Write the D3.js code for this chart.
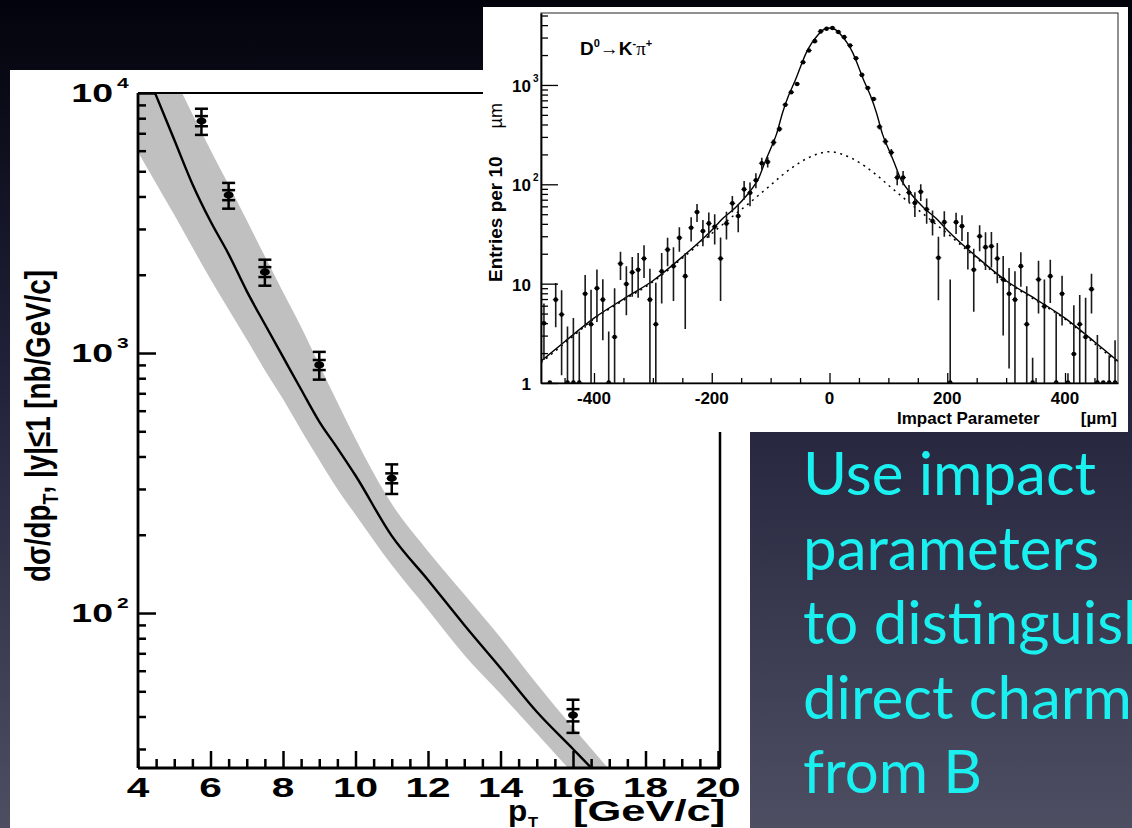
<!DOCTYPE html>
<html>
<head>
<meta charset="utf-8">
<script src="https://cdn.jsdelivr.net/npm/d3@7"></script>
<style>
  body { margin: 0; background: #000; }
  svg { display: block; }
</style>
</head>
<body>
<svg id="slide" width="1132" height="828"></svg>
<script>
// ---- Charm cross section vs pT (main panel) ----
const ptBins   = [5.75, 6.5, 7.5, 9, 11, 16];
const dsigma   = [7800, 4050, 2050, 900, 330, 40.5];   // nb/GeV/c
const totErr   = [900, 460, 235, 110, 43, 5.9];
const statErr  = [350, 180, 90, 40, 14.5, 2.2];

const theoryPt      = [4, 4.5, 5, 5.5, 6, 6.5, 7, 7.5, 8, 8.5, 9, 9.5, 10, 11, 12, 13, 14, 15, 16, 16.5, 17];
const theoryCentral = [14450, 9770, 6610, 4470, 3210, 2400, 1730, 1290, 966, 724, 545, 431, 338, 198, 134, 90, 61.5, 41.7, 30, 25.4, 21.4];
const theoryUpper   = [22400, 15500, 11500, 8300, 6040, 4440, 3240, 2355, 1715, 1259, 902, 646, 468, 263, 173, 118, 80.5, 53.5, 36.3, 30.1, 25];
const theoryLower   = [5930, 4490, 3400, 2550, 1920, 1470, 1127, 859, 665, 505, 388, 300, 239, 153, 103, 69, 48.9, 34.4, 24.2, 20.4, 17];

const xTickValues = [4, 6, 8, 10, 12, 14, 16, 18, 20];
const xTickLabels = ["4", "6", "8", "10", "12", "14", "16", "18", "20"];
const yTickValues = [100, 1000, 10000];
const yTickExps   = ["2", "3", "4"];

// ---- D0 -> K pi impact parameter distribution (inset) ----
const ipBins = [-485, -475, -465, -455, -445, -435, -425, -415, -405, -395, -385, -375, -365, -355, -345, -335, -325, -315, -305, -295,
                -285, -275, -265, -255, -245, -235, -225, -215, -205, -195, -185, -175, -165, -155, -145, -135, -125, -115, -105, -95,
                -85, -75, -65, -55, -45, -35, -25, -15, -5, 5, 15, 25, 35, 45, 55, 65, 75, 85, 95, 105,
                115, 125, 135, 145, 155, 165, 175, 185, 195, 205, 215, 225, 235, 245, 255, 265, 275, 285, 295, 305,
                315, 325, 335, 345, 355, 365, 375, 385, 395, 405, 415, 425, 435, 445, 455, 465, 475, 485];
const ipCounts = [4.0, 0, 6.9, 4.9, 0, 0, 0, 7.9, 3.9, 9.0, 6.9, 0, 2.9, 15.9, 9.9, 13, 13.8, 17.9, 6.9, 3.9,
                  13.3, 22, 15, 28.9, 11.9, 36.5, 52.5, 33.8, 40.4, 37.4, 17.9, 40.4, 64.3, 47.9, 89, 82, 110, 163, 168, 264,
                  360, 632, 844, 1023, 1695, 2222, 2760, 3460, 3680, 3740, 3410, 3030, 2495, 1860, 1262, 933, 722, 379, 270, 209,
                  117, 117, 82.5, 65, 84, 56, 42.6, 18.2, 41.6, 0, 41.6, 37.9, 23.5, 13.8, 30, 23.3, 23.8, 17.9, 11, 7.9,
                  6.9, 15, 3.9, 0, 11, 5.9, 11.9, 0, 7.9, 0, 1.96, 3.9, 2.9, 8.8, 0, 0, 0, 0];
const ipErrors = [2.3, 0.8, 3.25, 3.7, 3.7, 4.5, 3.3, 4.3, 4.8, 4.9, 4.2, 3.3, 6.1, 5, 5.1, 5.6, 6.6, 6.5, 7.2, 6.3,
                  7, 7, 8.3, 8, 8.4, 10, 10.8, 10, 11.5, 12.6, 11.2, 12.5, 12, 15, 19, 22, 19, 22, 20, 20,
                  22, 28, 32, 35, 42, 48, 53, 59, 61, 61, 58, 55, 50, 43, 36, 31, 27, 22, 20, 18,
                  19, 19, 16, 18, 16, 16, 12, 11.4, 12, 11, 10, 11, 9.6, 8.6, 8.8, 9.6, 9.3, 7.8, 8, 6.5,
                  6.4, 5.7, 5.5, 1.8, 6, 5.1, 5.5, 5.1, 4.1, 1.25, 4.1, 3.8, 4.3, 3.8, 3.05, 0.5, 1.9, 2.7];

const fitIp    = [-490, -450, -400, -350, -300, -250, -200, -180, -160, -140, -130, -120, -110, -100, -90, -80, -70, -60, -50, -40, -30, -20, -10,
                  0, 10, 20, 30, 40, 50, 60, 70, 80, 90, 100, 110, 120, 130, 140, 160, 180, 200, 250, 300, 350, 400, 450, 490];
const fitTotal = [1.66, 2.6, 4.5, 7.0, 10.7, 18.6, 34.5, 46, 58, 78, 93, 116, 165, 228, 320, 520, 770, 1050, 1480, 2080, 2650, 3170, 3600,
                  3740, 3600, 3170, 2650, 2080, 1480, 1050, 770, 520, 320, 228, 165, 116, 93, 78, 58, 46, 34.5, 18.6, 10.7, 7.0, 4.5, 2.6, 1.66];
const bkgIp    = [-490, -450, -400, -350, -300, -250, -200, -180, -160, -140, -120, -100, -80, -60, -40, -20,
                  0, 20, 40, 60, 80, 100, 120, 140, 160, 180, 200, 250, 300, 350, 400, 450, 490];
const bkgFit   = [1.6, 2.5, 4.4, 6.8, 10.4, 18, 32, 40, 50, 62, 78, 98, 124, 152, 180, 202,
                  213, 202, 180, 152, 124, 98, 78, 62, 50, 40, 32, 18, 10.4, 6.8, 4.4, 2.5, 1.6];

const insetXTicks  = [-400, -200, 0, 200, 400];
const insetXLabels = ["-400", "-200", "0", "200", "400"];
const insetYTicks  = [1, 10, 100, 1000];

const slideLines = ["Use impact", "parameters", "to distinguish", "direct charm", "from B"];

// ------------------------------------------------------------------
const svg = d3.select("#slide");
const defs = svg.append("defs");
const FONT = "'Liberation Sans', Arial, Helvetica, sans-serif";

const grad = defs.append("linearGradient").attr("id", "slideBg")
  .attr("x1", 0).attr("y1", 0).attr("x2", 0).attr("y2", 1);
grad.append("stop").attr("offset", "0%").attr("stop-color", "#03030c");
grad.append("stop").attr("offset", "45%").attr("stop-color", "#21223a");
grad.append("stop").attr("offset", "100%").attr("stop-color", "#4e4e63");
svg.append("rect").attr("width", 1132).attr("height", 828).attr("fill", "url(#slideBg)");

// ---------------- main panel ----------------
const main = svg.append("g");
main.append("rect").attr("x", 10).attr("y", 70).attr("width", 740).attr("height", 758).attr("fill", "#fff");

const xMain = d3.scaleLinear().domain([4, 20]).range([138, 718]);
const yMain = d3.scaleLog().domain([25.35, 10000]).range([768, 93]);
const SX = 1.5;   // horizontal stretch of the panel's lettering

defs.append("clipPath").attr("id", "mainClip").append("rect")
  .attr("x", 138).attr("y", 93).attr("width", 582).attr("height", 675);

const plot = main.append("g").attr("clip-path", "url(#mainClip)");

const bandData = theoryPt.map((p, i) => ({ p, lo: theoryLower[i], hi: theoryUpper[i], c: theoryCentral[i] }));
plot.append("path").datum(bandData)
  .attr("fill", "#c0c0c0")
  .attr("d", d3.area().curve(d3.curveMonotoneX)
    .x(d => xMain(d.p)).y0(d => yMain(d.lo)).y1(d => yMain(d.hi)));
plot.append("path").datum(bandData)
  .attr("fill", "none").attr("stroke", "#000").attr("stroke-width", 2.4)
  .attr("d", d3.line().curve(d3.curveMonotoneX).x(d => xMain(d.p)).y(d => yMain(d.c)));

// measured points with total and statistical error caps
const pts = ptBins.map((p, i) => ({ p, v: dsigma[i], e: totErr[i], s: statErr[i] }));
const ptG = plot.selectAll("g.pt").data(pts).join("g").attr("class", "pt");
ptG.append("line")
  .attr("x1", d => xMain(d.p)).attr("x2", d => xMain(d.p))
  .attr("y1", d => yMain(d.v + d.e)).attr("y2", d => yMain(d.v - d.e))
  .attr("stroke", "#000").attr("stroke-width", 2.5);
[d => d.v + d.e, d => d.v - d.e, d => d.v + d.s, d => d.v - d.s].forEach(f => {
  ptG.append("line")
    .attr("x1", d => xMain(d.p) - 6.5).attr("x2", d => xMain(d.p) + 6.5)
    .attr("y1", d => yMain(f(d))).attr("y2", d => yMain(f(d)))
    .attr("stroke", "#000").attr("stroke-width", 2.5);
});
ptG.append("ellipse")
  .attr("cx", d => xMain(d.p)).attr("cy", d => yMain(d.v))
  .attr("rx", 5).attr("ry", 3.6).attr("fill", "#000");

// frame
main.append("line").attr("x1", 138).attr("x2", 720).attr("y1", 93).attr("y2", 93)
  .attr("stroke", "#000").attr("stroke-width", 2);
main.append("line").attr("x1", 720).attr("x2", 720).attr("y1", 93).attr("y2", 768)
  .attr("stroke", "#000").attr("stroke-width", 2.5);

// x axis (ticks pointing into the plot)
const xMinor = d3.range(4, 20.001, 0.5).filter(v => v % 2 !== 0);
main.append("g").attr("transform", "translate(0,768)")
  .call(d3.axisTop(xMain).tickValues(xMinor).tickSize(9).tickSizeOuter(0).tickFormat(""))
  .call(g => g.select(".domain").remove())
  .call(g => g.selectAll("line").attr("stroke-width", 2.5));
main.append("g").attr("transform", "translate(0,768)")
  .call(d3.axisTop(xMain).tickValues(xTickValues).tickSize(17).tickSizeOuter(0).tickFormat(""))
  .call(g => g.select(".domain").attr("stroke-width", 2.8).attr("d", "M138,0H720"))
  .call(g => g.selectAll("line").attr("stroke-width", 2.5));

// y axis (ticks pointing into the plot)
const yMinor = [];
[10, 100, 1000].forEach(dec => { for (let k = 2; k <= 9; k++) { const v = dec * k; if (v > 25.35 && v < 10000) yMinor.push(v); } });
main.append("g").attr("transform", "translate(138,0)")
  .call(d3.axisRight(yMain).tickValues(yMinor).tickSize(8).tickSizeOuter(0).tickFormat(""))
  .call(g => g.select(".domain").remove())
  .call(g => g.selectAll("line").attr("stroke-width", 2.5));
main.append("g").attr("transform", "translate(138,0)")
  .call(d3.axisRight(yMain).tickValues(yTickValues).tickSize(18).tickSizeOuter(0).tickFormat(""))
  .call(g => g.select(".domain").attr("stroke-width", 2.8).attr("d", "M0,768V93"))
  .call(g => g.selectAll("line").attr("stroke-width", 2.5));

function stretched(g, x, y, str, size, anchor, sx) {
  return g.append("text")
    .attr("transform", `translate(${x},${y}) scale(${sx || SX},1)`)
    .attr("text-anchor", anchor || "start")
    .attr("font-family", FONT).attr("font-weight", "bold")
    .attr("font-size", size).attr("fill", "#000").text(str);
}

xTickValues.forEach((v, i) => stretched(main, xMain(v), 797, xTickLabels[i], 28, "middle", 1.45));
yTickValues.forEach((v, i) => {
  const y = yMain(v);
  stretched(main, 113, y + 9, "10", 25, "end");
  stretched(main, 117, y - 5, yTickExps[i], 14, "start");
});

// axis titles
stretched(main, 508, 821, "p", 30, "start", 1.05);
stretched(main, 528, 827, "T", 15, "start", 1.1);
stretched(main, 573, 821, "[GeV/c]", 30, "start", 1.45);

const yTitle = main.append("text")
  .attr("transform", `translate(50,582) scale(${SX},1) rotate(-90)`)
  .attr("font-family", FONT).attr("font-weight", "bold").attr("font-size", 23)
  .attr("textLength", 312).attr("lengthAdjust", "spacingAndGlyphs");
yTitle.append("tspan").text("dσ/dp");
yTitle.append("tspan").attr("font-size", 15).attr("dy", 5).text("T");
yTitle.append("tspan").attr("dy", -5).text(", |y|≤1 [nb/GeV/c]");

// ---------------- inset panel ----------------
const ins = svg.append("g");
ins.append("rect").attr("x", 483).attr("y", 7).attr("width", 645).attr("height", 425).attr("fill", "#fff");

const xIns = d3.scaleLinear().domain([-490, 490]).range([541, 1118]);
const yIns = d3.scaleLog().domain([1, 5300]).range([383, 13]);

defs.append("clipPath").attr("id", "insClip").append("rect")
  .attr("x", 541).attr("y", 13).attr("width", 577).attr("height", 370.5);
const iplot = ins.append("g").attr("clip-path", "url(#insClip)");

const fitData = fitIp.map((u, i) => ({ u, v: fitTotal[i] }));
const bkgData = bkgIp.map((u, i) => ({ u, v: bkgFit[i] }));
const ipLine = d3.line().curve(d3.curveMonotoneX).x(d => xIns(d.u)).y(d => yIns(d.v));
iplot.append("path").datum(bkgData).attr("d", ipLine)
  .attr("fill", "none").attr("stroke", "#000").attr("stroke-width", 1.5).attr("stroke-dasharray", "2,4.5");
iplot.append("path").datum(fitData).attr("d", ipLine)
  .attr("fill", "none").attr("stroke", "#000").attr("stroke-width", 1.4);

const hist = ipBins.map((u, i) => ({ u, v: ipCounts[i], e: ipErrors[i] }));
const hg = iplot.selectAll("g.bin").data(hist).join("g").attr("class", "bin");
hg.filter(d => d.v + d.e > 1).append("line")
  .attr("x1", d => xIns(d.u)).attr("x2", d => xIns(d.u))
  .attr("y1", d => yIns(d.v + d.e)).attr("y2", d => yIns(Math.max(d.v - d.e, 0.9)))
  .attr("stroke", "#1a1a1a").attr("stroke-width", 1.6);
hg.append("line")
  .attr("x1", d => xIns(d.u - 5)).attr("x2", d => xIns(d.u + 5))
  .attr("y1", d => yIns(Math.max(d.v, 1))).attr("y2", d => yIns(Math.max(d.v, 1)))
  .attr("stroke", "#333").attr("stroke-width", 1);
hg.append("circle")
  .attr("cx", d => xIns(d.u)).attr("cy", d => yIns(Math.max(d.v, 1)) - (d.v < 1 ? 0.5 : 0))
  .attr("r", 2.3).attr("fill", "#000");

// inset frame and axes
ins.append("rect").attr("x", 541).attr("y", 13).attr("width", 577).attr("height", 370)
  .attr("fill", "none").attr("stroke", "#222").attr("stroke-width", 1);
const ipMinor = d3.range(-450, 451, 50).filter(v => v % 200 !== 0);
ins.append("g").attr("transform", "translate(0,383)")
  .call(d3.axisTop(xIns).tickValues(ipMinor).tickSize(5).tickSizeOuter(0).tickFormat(""))
  .call(g => g.select(".domain").remove())
  .call(g => g.selectAll("line").attr("stroke-width", 1.3));
ins.append("g").attr("transform", "translate(0,383)")
  .call(d3.axisTop(xIns).tickValues(insetXTicks).tickSize(10).tickSizeOuter(0).tickFormat(""))
  .call(g => g.select(".domain").attr("stroke-width", 1.6))
  .call(g => g.selectAll("line").attr("stroke-width", 1.3));

const ipYMinor = [];
[1, 10, 100, 1000].forEach(dec => { for (let k = 2; k <= 9; k++) { const v = dec * k; if (v < 5300) ipYMinor.push(v); } });
ins.append("g").attr("transform", "translate(541,0)")
  .call(d3.axisRight(yIns).tickValues(ipYMinor).tickSize(7).tickSizeOuter(0).tickFormat(""))
  .call(g => g.select(".domain").remove())
  .call(g => g.selectAll("line").attr("stroke-width", 1.3));
ins.append("g").attr("transform", "translate(541,0)")
  .call(d3.axisRight(yIns).tickValues(insetYTicks).tickSize(17).tickSizeOuter(0).tickFormat(""))
  .call(g => g.select(".domain").attr("stroke-width", 1.8))
  .call(g => g.selectAll("line").attr("stroke-width", 1.3));

function insText(x, y, str, size, anchor) {
  return ins.append("text").attr("x", x).attr("y", y)
    .attr("text-anchor", anchor || "start")
    .attr("font-family", FONT).attr("font-weight", "bold")
    .attr("font-size", size).attr("fill", "#000").text(str);
}
insetXTicks.forEach((v, i) => insText(xIns(v), 404, insetXLabels[i], 17, "middle"));
insetYTicks.forEach(v => {
  const y = yIns(v);
  if (v === 1) { insText(531, y + 7, "1", 17, "end"); return; }
  insText(531, y + 7, "10", 17, "end");
  if (v > 10) insText(533, y - 3, String(Math.round(Math.log10(v))), 10, "start");
});

insText(897, 424, "Impact Parameter", 17, "start");
insText(1117, 424, "[µm]", 17, "end");

const yTitleIns = ins.append("text")
  .attr("transform", "translate(502,282) rotate(-90)")
  .attr("font-family", FONT).attr("font-weight", "bold").attr("font-size", 19);
yTitleIns.append("tspan").text("Entries per 10");
ins.append("text")
  .attr("transform", "translate(502,103) rotate(-90)")
  .attr("text-anchor", "end")
  .attr("font-family", FONT).attr("font-size", 18).text("µm");

const decay = ins.append("text").attr("x", 580).attr("y", 55)
  .attr("font-family", FONT).attr("font-weight", "bold").attr("font-size", 19);
decay.append("tspan").text("D");
decay.append("tspan").attr("font-size", 11).attr("dy", -8).text("0");
decay.append("tspan").attr("dy", 8).attr("font-weight", "normal").text("→");
decay.append("tspan").text("K");
decay.append("tspan").attr("font-size", 11).attr("dy", -8).text("-");
decay.append("tspan").attr("dy", 8).attr("font-weight", "normal").attr("font-family", "'Liberation Serif', serif").text("π");
decay.append("tspan").attr("font-size", 11).attr("dy", -8).text("+");

// ---------------- slide caption ----------------
const caption = svg.append("g");
slideLines.forEach((line, i) => {
  caption.append("text")
    .attr("x", 803).attr("y", 495 + i * 74.5)
    .attr("font-family", "Lato, 'Open Sans', sans-serif")
    .attr("font-size", 60).attr("fill", "#1af0f0").text(line);
});
</script>
</body>
</html>
